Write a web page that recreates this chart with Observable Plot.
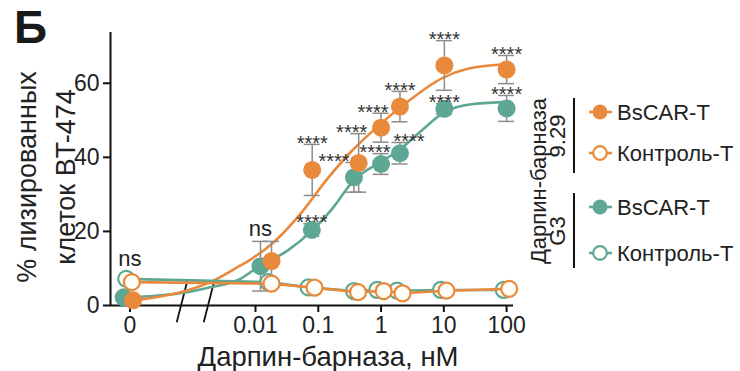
<!DOCTYPE html>
<html><head><meta charset="utf-8">
<script src="https://cdn.jsdelivr.net/npm/d3@7"></script>
<script src="https://cdn.jsdelivr.net/npm/@observablehq/plot@0.6"></script>
<style>
body{margin:0;background:#fff;}
#chart{position:relative;width:740px;height:371px;}
</style></head><body><div id="chart"></div>
<script>
// ---------- data ----------
const tickConc   = [0, 0.01, 0.1, 1, 10, 100];
const tickLabels = ["0", "0.01", "0.1", "1", "10", "100"];
const yTicks     = [0, 20, 40, 60];

// Darpin-barnase 9.29, BsCAR-T (orange, filled)
const o929Conc = [0, 0.018, 0.08, 0.44, 1.0, 2.0, 10.2, 100];
const o929Val  = [1.4, 12.0, 36.6, 38.5, 48.0, 53.7, 64.8, 63.7];
const o929SD   = [0, 5.3, 6.9, 7.9, 3.9, 4.1, 6.7, 3.8];
const o929Sig  = ["", "", "****", "****", "****", "****", "****", "****"];
// Darpin-barnase 9.29, control T (orange, open)
const o929CtrlConc = [0, 0.018, 0.087, 0.43, 1.1, 2.2, 11, 110];
const o929CtrlVal  = [6.3, 5.9, 4.8, 3.6, 3.9, 3.3, 4.0, 4.5];
// Darpin-barnase G3, BsCAR-T (teal, filled)
const g3Conc = [0, 0.012, 0.079, 0.37, 1.0, 2.0, 10.2, 100];
const g3Val  = [2.2, 10.6, 20.4, 34.6, 38.2, 41.1, 53.1, 53.2];
const g3SD   = [0, 6.7, 1.7, 4.0, 2.8, 2.9, 1.4, 3.5];
const g3Sig  = ["ns", "ns", "****", "****", "****", "****", "****", "****"];
// Darpin-barnase G3, control T (teal, open)
const g3CtrlConc = [0, 0.016, 0.07, 0.37, 0.87, 1.8, 9, 90];
const g3CtrlVal  = [7.2, 6.3, 4.9, 3.9, 4.2, 4.0, 4.2, 4.2];

// fitted curves (x in axis units = log10 nM, "0" sits at -4)
const o929FitX = [-3.96, -3.09, -2.72, -2.24, -2.08, -1.71, -1.28, -0.85, -0.49, 0, 0.31, 1.0, 1.38, 2.02];
const o929FitY = [1.35, 4.05, 6.3, 10.8, 12.4, 17.1, 24.8, 34.3, 41.3, 49.1, 53.5, 61.6, 63.9, 65.2];
const g3FitX = [-4.1, -3.09, -2.72, -2.24, -1.97, -1.49, -1.1, -0.76, -0.44, 0, 0.29, 0.63, 1.01, 1.47, 2.02];
const g3FitY = [2.2, 3.6, 4.9, 7.2, 10.3, 14.8, 20.2, 26.5, 33.7, 38.8, 42.0, 47.0, 52.2, 54.4, 54.9];

const axisBreaks = [-3.17, -2.74];

// ---------- layout ----------
const W = 740, H = 371, ML = 110, MR = 227, MT = 32, MB = 66;
const xDomain = [-4.31, 2.11];
const pxPerUnit = (W - ML - MR) / (xDomain[1] - xDomain[0]);
const ZERO_AT = -4;
const zeroNudge = {o: 0.05, oc: 0.03, g: -0.1, gc: -0.06};
const pos = (c, n = 0) => c === 0 ? ZERO_AT + n : Math.log10(c);
const orange = "#E8893B", teal = "#5DA794", errCol = "#8c8c8c";
const FONT = "'Liberation Sans', Arial, sans-serif";
// label nudges in px (to avoid overlaps, as in the figure)
const o929LabDx = [0, 0, 0, -7, -8, 0, 0, 0];
const g3LabDx   = [0, 0, 0, -20, -6, 9, 0, 0];

const mk = (conc, val, sd, sig, n, ldx) => conc.map((c, i) => ({
  x: pos(c, n), y: val[i], sd: sd ? sd[i] : 0, sig: sig ? sig[i] : "", i,
  lx: pos(c, n) + (ldx ? ldx[i] : 0) / pxPerUnit
}));
const o929 = mk(o929Conc, o929Val, o929SD, o929Sig, zeroNudge.o, o929LabDx);
const g3 = mk(g3Conc, g3Val, g3SD, g3Sig, zeroNudge.g, g3LabDx);
const o929Ctrl = mk(o929CtrlConc, o929CtrlVal, null, null, zeroNudge.oc);
const g3Ctrl = mk(g3CtrlConc, g3CtrlVal, null, null, zeroNudge.gc);
const o929Fit = o929FitX.map((x, i) => ({x, y: o929FitY[i]}));
const g3Fit = g3FitX.map((x, i) => ({x, y: g3FitY[i]}));

// "ns" labels: above everything at that concentration
const rUnits = 8 / ((H - MT - MB) / 73.7);
const nsLabels = g3.filter(d => d.sig === "ns").map(d => {
  const top = Math.max(d.y + d.sd, o929[d.i].y + o929[d.i].sd, o929Ctrl[d.i].y + rUnits, g3Ctrl[d.i].y + rUnits);
  return {x: d.i === 0 ? ZERO_AT : d.x, y: top, sig: d.sig};
});
const stars = [...o929, ...g3].filter(d => d.sig === "****");
const errs = [...o929, ...g3].filter(d => d.sd > 0);
const capHalf = 8 / pxPerUnit;

const tickPos = tickConc.map(c => pos(c));

const plot = Plot.plot({
  width: W, height: H,
  marginLeft: ML, marginRight: MR, marginTop: MT, marginBottom: MB,
  style: {fontFamily: FONT, color: "#222", background: "white", overflow: "visible"},
  x: {type: "linear", domain: xDomain},
  y: {domain: [0, 73.7]},
  marks: [
    Plot.axisY(yTicks, {tickSize: 7, tickPadding: 4, fontSize: 23, strokeWidth: 2, label: null, stroke: "#111", color: "#222"}),
    Plot.axisX(tickPos, {tickSize: 7, tickPadding: 4, fontSize: 23, strokeWidth: 2, label: null, stroke: "#111",
      tickFormat: d => tickLabels[tickPos.findIndex(p => Math.abs(p - d) < 1e-9)]}),
    Plot.ruleY([0], {stroke: "#111", strokeWidth: 2}),
    Plot.ruleX([xDomain[0]], {stroke: "#111", strokeWidth: 2}),
    Plot.link(axisBreaks, {x1: d => d - 0.085, x2: d => d + 0.085, y1: -4.5, y2: 6.75, stroke: "#111", strokeWidth: 1.8, clip: false}),
    // fitted curves
    Plot.line(g3Fit, {x: "x", y: "y", stroke: teal, strokeWidth: 2.6, curve: "monotone-x"}),
    Plot.line(o929Fit, {x: "x", y: "y", stroke: orange, strokeWidth: 2.6, curve: "monotone-x"}),
    // error bars
    Plot.ruleX(errs, {x: "x", y1: d => d.y - d.sd, y2: d => d.y + d.sd, stroke: errCol, strokeWidth: 1.5}),
    Plot.ruleY(errs, {y: d => d.y + d.sd, x1: d => d.x - capHalf, x2: d => d.x + capHalf, stroke: errCol, strokeWidth: 1.5}),
    Plot.ruleY(errs, {y: d => d.y - d.sd, x1: d => d.x - capHalf, x2: d => d.x + capHalf, stroke: errCol, strokeWidth: 1.5}),
    // filled points
    Plot.dot(g3, {x: "x", y: "y", r: 9, fill: teal, stroke: null}),
    Plot.dot(o929, {x: "x", y: "y", r: 9, fill: orange, stroke: null}),
    // controls
    Plot.line(g3Ctrl, {x: "x", y: "y", stroke: teal, strokeWidth: 2.6}),
    Plot.dot(g3Ctrl, {x: "x", y: "y", r: 8, fill: "#fffdf8", stroke: teal, strokeWidth: 2.2}),
    Plot.line(o929Ctrl, {x: "x", y: "y", stroke: orange, strokeWidth: 2.6}),
    Plot.dot(o929Ctrl, {x: "x", y: "y", r: 8, fill: "#fffdf8", stroke: orange, strokeWidth: 2.2}),
    // significance labels
    Plot.text(stars, {x: "lx", y: d => d.y + d.sd, text: "sig", fontSize: 20, dy: -1, fill: "#333"}),
    Plot.text(nsLabels, {x: "x", y: "y", text: "sig", fontSize: 22, dy: -12, fill: "#222"})
  ]
});

document.getElementById("chart").appendChild(plot);

// ---------- titles and legend drawn into the same SVG ----------
const svg = d3.select(plot);
const t = (x, y, txt, size, opts = {}) => {
  const el = svg.append("text").attr("x", 0).attr("y", 0)
    .attr("transform", `translate(${x},${y})` + (opts.rot ? ` rotate(${opts.rot})` : ""))
    .attr("font-family", FONT).attr("font-size", size).attr("fill", opts.fill || "#222")
    .attr("text-anchor", opts.anchor || "middle").text(txt);
  if (opts.bold) el.attr("font-weight", "bold");
  if (opts.dom) el.attr("dominant-baseline", opts.dom);
  return el;
};
t(14, 43, "Б", 46, {anchor: "start", bold: true, fill: "#1a1a1a"});
t(36, 177, "% лизированных", 27, {rot: -90});
t(75, 177, "клеток BT-474", 27, {rot: -90});
t(328, 366, "Дарпин-барназа, нМ", 27.5);

// legend
t(546, 181, "Дарпин-барназа", 22, {rot: -90});
t(565, 136, "9.29", 22, {rot: -90});
t(565, 231, "G3", 22, {rot: -90});
svg.append("line").attr("x1", 574).attr("x2", 574).attr("y1", 98).attr("y2", 173).attr("stroke", "#111").attr("stroke-width", 2);
svg.append("line").attr("x1", 574).attr("x2", 574).attr("y1", 193).attr("y2", 268).attr("stroke", "#111").attr("stroke-width", 2);
const legendItems = [
  {y: 112, c: orange, filled: true, label: "BsCAR-T"},
  {y: 153, c: orange, filled: false, label: "Контроль-Т"},
  {y: 207, c: teal, filled: true, label: "BsCAR-T"},
  {y: 253, c: teal, filled: false, label: "Контроль-Т"}
];
legendItems.forEach(d => {
  svg.append("line").attr("x1", 589).attr("x2", 612).attr("y1", d.y).attr("y2", d.y).attr("stroke", d.c).attr("stroke-width", 2.6);
  svg.append("circle").attr("cx", 600).attr("cy", d.y).attr("r", d.filled ? 7.5 : 6.8)
    .attr("fill", d.filled ? d.c : "#fffdf8").attr("stroke", d.filled ? "none" : d.c).attr("stroke-width", 2.2);
  t(617, d.y, d.label, 22, {anchor: "start", dom: "central"});
});
</script></body></html>
